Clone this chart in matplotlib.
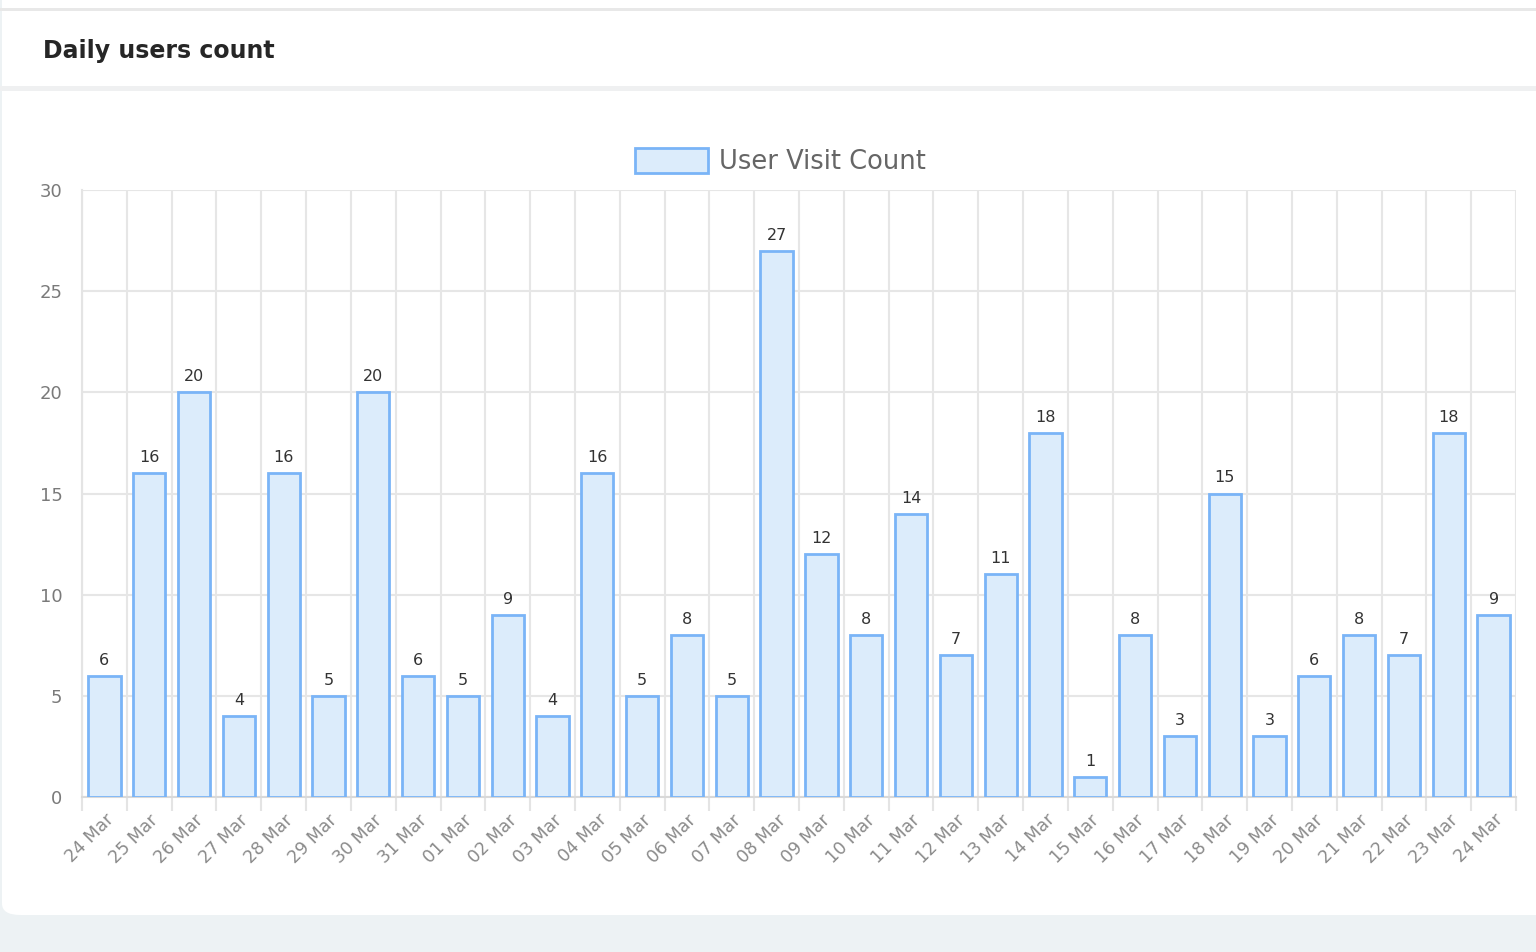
import numpy as np
import matplotlib.pyplot as plt
from matplotlib.patches import Rectangle, FancyBboxPatch

days = ['24 Mar', '25 Mar', '26 Mar', '27 Mar', '28 Mar', '29 Mar', '30 Mar', '31 Mar',
        '01 Mar', '02 Mar', '03 Mar', '04 Mar', '05 Mar', '06 Mar', '07 Mar', '08 Mar',
        '09 Mar', '10 Mar', '11 Mar', '12 Mar', '13 Mar', '14 Mar', '15 Mar', '16 Mar',
        '17 Mar', '18 Mar', '19 Mar', '20 Mar', '21 Mar', '22 Mar', '23 Mar', '24 Mar']
visits = [6, 16, 20, 4, 16, 5, 20, 6, 5, 9, 4, 16, 5, 8, 5, 27,
          12, 8, 14, 7, 11, 18, 1, 8, 3, 15, 3, 6, 8, 7, 18, 9]
y_ticks = [0, 5, 10, 15, 20, 25, 30]

plt.rcParams['font.family'] = ['DejaVu Sans']

W, H = 1536, 952
fig = plt.figure(figsize=(W / 100, H / 100), dpi=100)
fig.patch.set_facecolor('#edf2f4')

# white card with rounded corners, header bar lines
card = FancyBboxPatch((2 / W, 37 / H), 1.2, 1.0,
                      boxstyle='round,pad=0,rounding_size=0.012',
                      transform=fig.transFigure, facecolor='white',
                      edgecolor='none', zorder=-2)
fig.patches.append(card)
fig.patches.append(Rectangle((0, 1 - 11 / H), 1, 3 / H, transform=fig.transFigure,
                             facecolor='#e8e8e8', edgecolor='none', zorder=-1))
fig.patches.append(Rectangle((0, 1 - 91 / H), 1, 5 / H, transform=fig.transFigure,
                             facecolor='#eff0f1', edgecolor='none', zorder=-1))
fig.text(43 / W, 1 - 51 / H, 'Daily users count', fontsize=17, fontweight='bold',
         color='#262626', va='center', ha='left')

ax = fig.add_axes([82 / W, 1 - 797 / H, (1516 - 82) / W, (797 - 190) / H])
ax.set_facecolor('none')

x = np.arange(len(visits))
ax.bar(x, visits, width=0.72, color='#dcecfb', edgecolor='#7ab4f7',
       linewidth=2, label='User Visit Count', zorder=3)
for xi, v in zip(x, visits):
    ax.text(xi, v + 0.4, str(v), ha='center', va='bottom', fontsize=11.5,
            color='#333333', zorder=4)

ax.set_xlim(-0.5, len(visits) - 0.5)
ax.set_ylim(0, 30)
ax.set_yticks(y_ticks)
ax.set_xticks(x)
ax.set_xticklabels(days, rotation=45, ha='right', rotation_mode='anchor')
ax.set_xticks(np.arange(len(visits) + 1) - 0.5, minor=True)
ax.tick_params(axis='x', which='major', length=0, pad=10, labelsize=12.5, labelcolor='#8a8a8a')
ax.tick_params(axis='x', which='minor', length=10, color='#e4e4e4', width=1.5)
ax.tick_params(axis='y', length=0, pad=14, labelsize=13, labelcolor='#7a7a7a')
ax.grid(True, axis='y', color='#e6e6e6', linewidth=1.5, zorder=0)
ax.grid(True, axis='x', which='minor', color='#e6e6e6', linewidth=1.5, zorder=0)
ax.grid(False, axis='x', which='major')
for s in ['top', 'right']:
    ax.spines[s].set_visible(False)
ax.spines['left'].set_color('#e4e4e4')
ax.spines['left'].set_linewidth(1.5)
ax.spines['bottom'].set_color('#d9d9d9')
ax.spines['bottom'].set_linewidth(1.5)

ax.legend(loc='lower center', bbox_to_anchor=(0.487, 1.0), frameon=False,
          fontsize=18.5, handlelength=2.85, handleheight=1.13, handletextpad=0.42,
          labelcolor='#666666', borderaxespad=0.18)

fig.savefig('out.png', dpi=100, facecolor=fig.get_facecolor())
plt.close(fig)
